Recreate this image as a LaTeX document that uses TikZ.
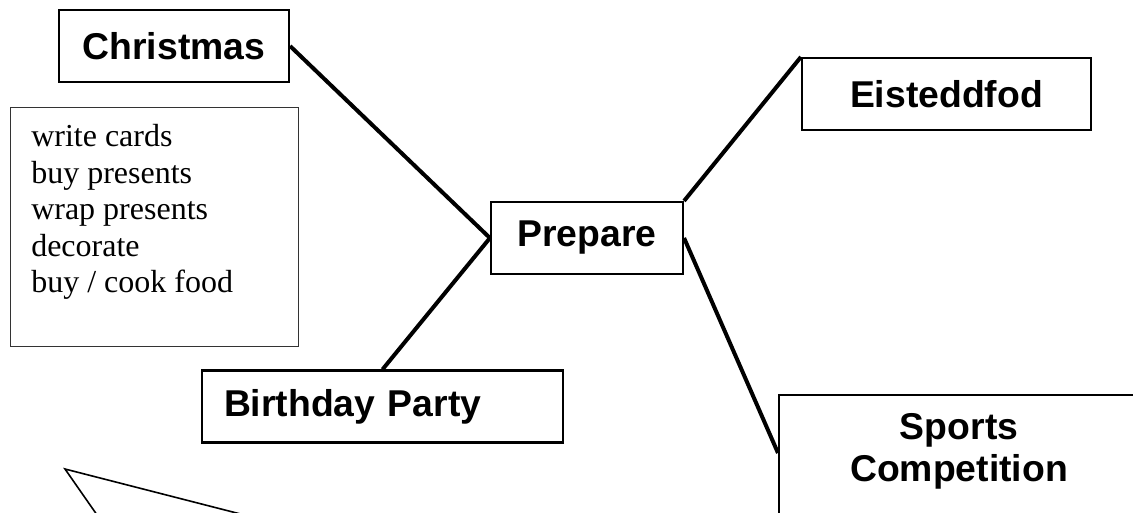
\documentclass[tikz,border=0pt]{standalone}
\usepackage{fontspec}
\setmainfont{Liberation Serif}
\setsansfont{Liberation Sans}
\usepackage{tikz}

\begin{document}
\begin{tikzpicture}[x=0.75pt, y=-0.75pt,
  topicfont/.style={font=\fontsize{28pt}{31.5pt}\selectfont\sffamily\bfseries},
  topic/.style={draw, rectangle, line width=1.6pt, minimum height=54pt, inner sep=0pt, topicfont},
  notefont/.style={font=\fontsize{24pt}{27.4pt}\selectfont},
  link/.style={line width=3pt}]

\useasboundingbox (0,0) rectangle (1133,512);

% Nodes
\node[topic, minimum width=172.5pt] (christmas) at (174,46) {Christmas};
\node[topic, minimum width=144pt] (prepare) at (587,238) {Prepare};
\node[topic, minimum width=216.75pt] (eisteddfod) at (946.5,94) {Eisteddfod};
\node[topic, minimum width=270.75pt, text width=237.75pt, align=left] (party) at (382.5,406.5) {Birthday Party};
\node[topic, anchor=north west, minimum width=270pt, minimum height=110pt,
  label={[draw=none, inner sep=0pt, topicfont, align=center, anchor=north, yshift=-14.25pt]north:Sports\\Competition}] (sports) at (778,394) {};

% Christmas list
\node[draw=black!80, line width=0.9pt, rectangle, anchor=north west, minimum width=216pt, minimum height=179.25pt, inner sep=0pt,
  label={[draw=none, inner sep=0pt, notefont, align=left, anchor=north west, xshift=15.75pt, yshift=-12.75pt]north west:write cards\\buy presents\\wrap presents\\decorate\\buy / cook food}] (tasks) at (10,107) {};

% Lines
\draw[link] (christmas.east) -- (prepare.west);
\draw[link] (prepare.north east) -- (eisteddfod.north west);
\draw[link] (prepare.west) -- (party.north);
\draw[link] (prepare.east) -- ([yshift=-44.25pt]sports.north west);

% Speech bubble (cut off)
\coordinate (tip) at (65,469);
\draw[line width=1.2pt] (114.5,540) -- (tip) -- (342,540);

\end{tikzpicture}
\end{document}
